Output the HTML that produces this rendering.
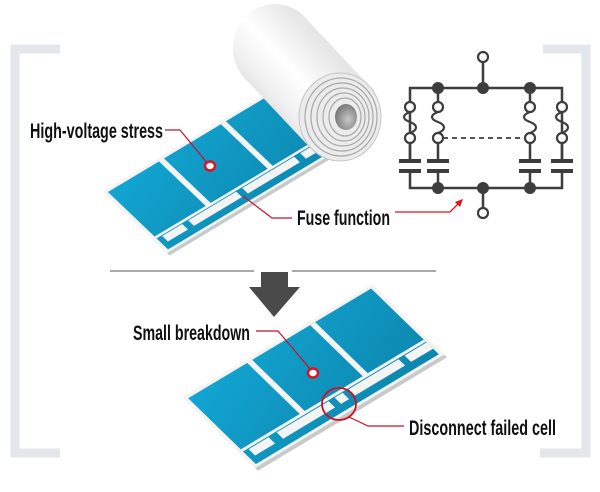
<!DOCTYPE html>
<html><head><meta charset="utf-8"><style>
html,body{margin:0;padding:0;background:#fff;}
svg{display:block;}
text{font-family:"Liberation Sans",sans-serif;font-weight:bold;fill:#111;}
</style></head><body>
<svg width="600" height="492" viewBox="0 0 600 492" xmlns="http://www.w3.org/2000/svg">
<defs>
<linearGradient id="bl" x1="0" y1="0" x2="1" y2="1"><stop offset="0" stop-color="#12a5d2"/><stop offset="1" stop-color="#0c86ad"/></linearGradient>
<linearGradient id="roll" gradientUnits="userSpaceOnUse" x1="244" y1="110" x2="320" y2="40"><stop offset="0" stop-color="#cfcfcf"/><stop offset="0.3" stop-color="#efefef"/><stop offset="0.6" stop-color="#ffffff"/><stop offset="1" stop-color="#e6e6e6"/></linearGradient>
<radialGradient id="hole" cx="0.6" cy="0.6" r="0.7"><stop offset="0" stop-color="#c8c8c8"/><stop offset="1" stop-color="#6d6d6d"/></radialGradient>
</defs>
<path d="M60,49 H15 V453 H60" fill="none" stroke="#e3e6ea" stroke-width="9"/>
<path d="M543,49 H586 V453 H540" fill="none" stroke="#e3e6ea" stroke-width="9"/>

<g transform="matrix(1,-0.6,0.64,0.61,103,192)">
<rect x="0" y="0" width="200" height="104" fill="#c9c9c9"/>
<rect x="0" y="0" width="200" height="100" fill="#f4f4f4"/>
<rect x="3" y="3" width="197" height="94" fill="url(#bl)"/>
<rect x="54" y="3" width="5" height="75" fill="#f4f4f4"/>
<rect x="116" y="3" width="5" height="75" fill="#f4f4f4"/>
<rect x="178" y="3" width="5" height="75" fill="#f4f4f4"/>
<rect x="3" y="76" width="197" height="3" fill="#f4f4f4"/>
<rect x="8" y="80" width="20" height="9" fill="#f4f4f4"/>
<rect x="34" y="80" width="48" height="9" fill="#f4f4f4"/>
<rect x="88" y="80" width="52" height="9" fill="#f4f4f4"/>
<rect x="146" y="80" width="50" height="9" fill="#f4f4f4"/>
</g>

<ellipse cx="275" cy="48" rx="42" ry="44" fill="url(#roll)"/>
<polygon points="306,18.5 371,87.5 309,146.5 244,77.5" fill="url(#roll)"/>
<ellipse cx="340" cy="117" rx="41" ry="44" fill="#ececec" stroke="#c4c4c4"/>
<g fill="none" stroke="#a8a8a8" stroke-width="1.2">
<ellipse cx="341" cy="117" rx="36" ry="39"/>
<ellipse cx="342" cy="117" rx="31" ry="34"/>
<ellipse cx="343" cy="117" rx="26" ry="29"/>
<ellipse cx="344" cy="117" rx="21" ry="24"/>
<ellipse cx="345" cy="117" rx="16" ry="19"/>
</g>
<ellipse cx="346" cy="117" rx="11" ry="13" fill="url(#hole)"/>

<text x="30" y="138" font-size="21" textLength="133" lengthAdjust="spacingAndGlyphs">High-voltage stress</text>
<polyline points="165,130 180,130 208,164" fill="none" stroke="#c8102e" stroke-width="1.2"/>
<ellipse cx="210" cy="166" rx="5" ry="4.5" fill="#fff" stroke="#e0101e" stroke-width="2.5"/>
<text x="297" y="225" font-size="21" textLength="93" lengthAdjust="spacingAndGlyphs">Fuse function</text>
<polyline points="243,196 272,218 292,218" fill="none" stroke="#c8102e" stroke-width="1.2"/>
<polyline points="395,212 450,212 458,204" fill="none" stroke="#e0101e" stroke-width="1.3"/>
<polygon points="463,199 455,202 460,207" fill="#e0101e"/>

<g stroke="#3d3d3d" stroke-width="2.5" fill="none">
<path d="M410,162 V88 H562 V162"/>
<path d="M410,170 V188 H562 V170"/>
<path d="M483,88 V62 M483,188 V208"/>
<path d="M438,88 V102 M438,143 V162 M438,170 V188"/>
<path d="M530,88 V102 M530,143 V162 M530,170 V188"/>
<path d="M410,143 V162"/>
<path d="M562,143 V162"/>
<path d="M443,138 H524" stroke-dasharray="5,4" stroke-width="1.8"/>
</g>
<g stroke="#3d3d3d" stroke-width="2.2" fill="#fff">
<circle cx="483" cy="57" r="5"/><circle cx="483" cy="213" r="5"/>
<circle cx="410" cy="107" r="5"/><circle cx="410" cy="138" r="5"/>
<circle cx="438" cy="107" r="5"/><circle cx="438" cy="138" r="5"/>
<circle cx="530" cy="107" r="5"/><circle cx="530" cy="138" r="5"/>
<circle cx="562" cy="107" r="5"/><circle cx="562" cy="138" r="5"/>
</g>
<g stroke="#3d3d3d" stroke-width="2.2" fill="none">
<path d="M410,112 c-8,3 -8,7 0,10 c8,3 8,8 0,11"/>
<path d="M438,112 c-8,3 -8,7 0,10 c8,3 8,8 0,11"/>
<path d="M530,112 c-8,3 -8,7 0,10 c8,3 8,8 0,11"/>
<path d="M562,112 c-8,3 -8,7 0,10 c8,3 8,8 0,11"/>
</g>
<g fill="#3d3d3d">
<rect x="399" y="159" width="22" height="4"/><rect x="399" y="169" width="22" height="4"/>
<rect x="427" y="159" width="22" height="4"/><rect x="427" y="169" width="22" height="4"/>
<rect x="519" y="159" width="22" height="4"/><rect x="519" y="169" width="22" height="4"/>
<rect x="551" y="159" width="22" height="4"/><rect x="551" y="169" width="22" height="4"/>
<circle cx="438" cy="88" r="6"/><circle cx="483" cy="88" r="6"/><circle cx="530" cy="88" r="6"/>
<circle cx="438" cy="188" r="6"/><circle cx="483" cy="188" r="6"/><circle cx="530" cy="188" r="6"/>
</g>

<line x1="110" y1="271" x2="254" y2="271" stroke="#777" stroke-width="1.2"/>
<line x1="292" y1="271" x2="436" y2="271" stroke="#777" stroke-width="1.2"/>
<polygon points="261,272 288,272 288,287 300,287 274,317 249,287 261,287" fill="#4a4a4a"/>

<g transform="matrix(1,-0.6,0.72,0.70,183,398)">
<rect x="0" y="0" width="189" height="104" fill="#c9c9c9"/>
<rect x="0" y="0" width="189" height="100" fill="#f4f4f4"/>
<rect x="3" y="3" width="183" height="94" fill="url(#bl)"/>
<rect x="62" y="3" width="5" height="75" fill="#f4f4f4"/>
<rect x="125" y="3" width="5" height="75" fill="#f4f4f4"/>
<rect x="3" y="76" width="183" height="3" fill="#f4f4f4"/>
<rect x="8" y="80" width="20" height="9" fill="#f4f4f4"/>
<rect x="36" y="80" width="52" height="9" fill="#f4f4f4"/>
<rect x="94" y="80" width="8" height="9" fill="#f4f4f4"/>
<rect x="108" y="80" width="50" height="9" fill="#f4f4f4"/>
<rect x="164" y="80" width="22" height="9" fill="#f4f4f4"/>
</g>

<text x="133" y="340" font-size="21" textLength="117" lengthAdjust="spacingAndGlyphs">Small breakdown</text>
<polyline points="256,331 278,331 311,370" fill="none" stroke="#c8102e" stroke-width="1.2"/>
<ellipse cx="313" cy="373" rx="5" ry="4.5" fill="#fff" stroke="#e0101e" stroke-width="2.5"/>
<ellipse cx="339" cy="404" rx="17" ry="16" fill="none" stroke="#d0101e" stroke-width="1.8"/>
<polyline points="349,417 368,426 404,426" fill="none" stroke="#c8102e" stroke-width="1.2"/>
<text x="409" y="435" font-size="21" textLength="147" lengthAdjust="spacingAndGlyphs">Disconnect failed cell</text>
</svg>
</body></html>
